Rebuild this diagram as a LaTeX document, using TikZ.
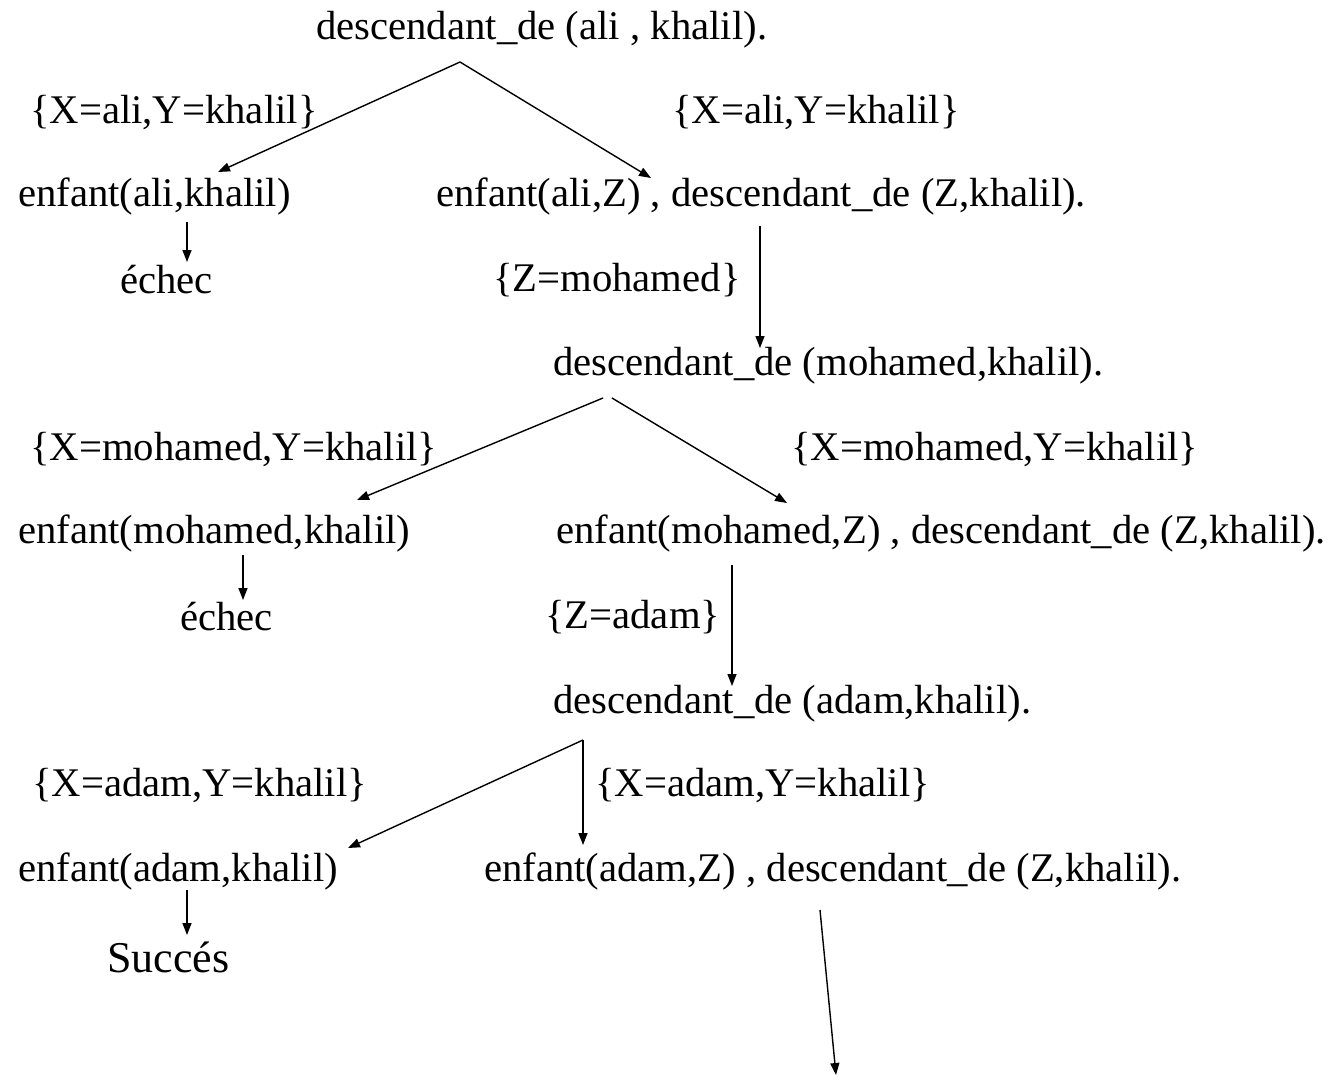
\documentclass[tikz,border=0pt]{standalone}
\usepackage{fontspec}
\setmainfont{Liberation Serif}
\usetikzlibrary{arrows.meta}
\begin{document}
\begin{tikzpicture}[x=1pt,y=1pt,
  term/.style={inner sep=0pt,anchor=west,font=\fontsize{40.7}{48}\selectfont},
  subst/.style={term},
  arr/.style={line width=1.4pt,-{Triangle[length=12pt,width=9pt]}}]
\useasboundingbox[fill=white] (0,0) rectangle (1339,-1080);

% level 0
\node[term] (t0) at (316,-30) {descendant\_de (ali , khalil).};
\node[subst] (s1l) at (30,-113) {\{X=ali,Y=khalil\}};
\node[subst] (s1r) at (672,-113) {\{X=ali,Y=khalil\}};
\node[term] (a1) at (18,-196) {enfant(ali,khalil)};
\node[term] (b1) at (436,-196) {enfant(ali,Z) , descendant\_de (Z,khalil).};
\node[term] (f1) at (120,-280) {échec};
\node[subst] (z1) at (493,-280) {\{Z=mohamed\}};

% level 1
\node[term] (t1) at (553,-366) {descendant\_de (mohamed,khalil).};
\node[subst] (s2l) at (30,-450) {\{X=mohamed,Y=khalil\}};
\node[subst] (s2r) at (791,-450) {\{X=mohamed,Y=khalil\}};
\node[term] (a2) at (18,-533) {enfant(mohamed,khalil)};
\node[term] (b2) at (556,-533) {enfant(mohamed,Z) , descendant\_de (Z,khalil).};
\node[term] (f2) at (180,-617) {échec};
\node[subst] (z2) at (545,-617) {\{Z=adam\}};

% level 2
\node[term] (t2) at (553,-704) {descendant\_de (adam,khalil).};
\node[subst] (s3l) at (32,-785) {\{X=adam,Y=khalil\}};
\node[subst] (s3r) at (595,-785) {\{X=adam,Y=khalil\}};
\node[term] (a3) at (18,-871) {enfant(adam,khalil)};
\node[term] (b3) at (484,-871) {enfant(adam,Z) , descendant\_de (Z,khalil).};
\node[term,font=\fontsize{44}{52}\selectfont] (ok) at (107,-957) {Succés};

% branch points and arrow ends
\coordinate (p0) at (460,-62);
\coordinate (a1in) at (218,-172);
\coordinate (b1in) at (651,-178);
\coordinate (a1out) at (187,-222);
\coordinate (f1in) at (187,-262);
\coordinate (b1out) at (760,-226);
\coordinate (t1in) at (760,-348);
\coordinate (p1l) at (603,-398);
\coordinate (p1r) at (612,-398);
\coordinate (a2in) at (357,-500);
\coordinate (b2in) at (787,-503);
\coordinate (a2out) at (243,-555);
\coordinate (f2in) at (243,-600);
\coordinate (b2out) at (732,-565);
\coordinate (t2in) at (732,-686);
\coordinate (p2) at (583,-740);
\coordinate (a3in) at (348,-848);
\coordinate (b3in) at (583,-845);
\coordinate (a3out) at (187,-890);
\coordinate (okin) at (187,-935);
\coordinate (b3out) at (820,-910);
\coordinate (next) at (836,-1075);

\draw[arr] (p0) -- (a1in);
\draw[arr] (p0) -- (b1in);
\draw[arr] (a1out) -- (f1in);
\draw[arr] (b1out) -- (t1in);
\draw[arr] (p1l) -- (a2in);
\draw[arr] (p1r) -- (b2in);
\draw[arr] (a2out) -- (f2in);
\draw[arr] (b2out) -- (t2in);
\draw[arr] (p2) -- (a3in);
\draw[arr] (p2) -- (b3in);
\draw[arr] (a3out) -- (okin);
\draw[arr] (b3out) -- (next);
\end{tikzpicture}
\end{document}
